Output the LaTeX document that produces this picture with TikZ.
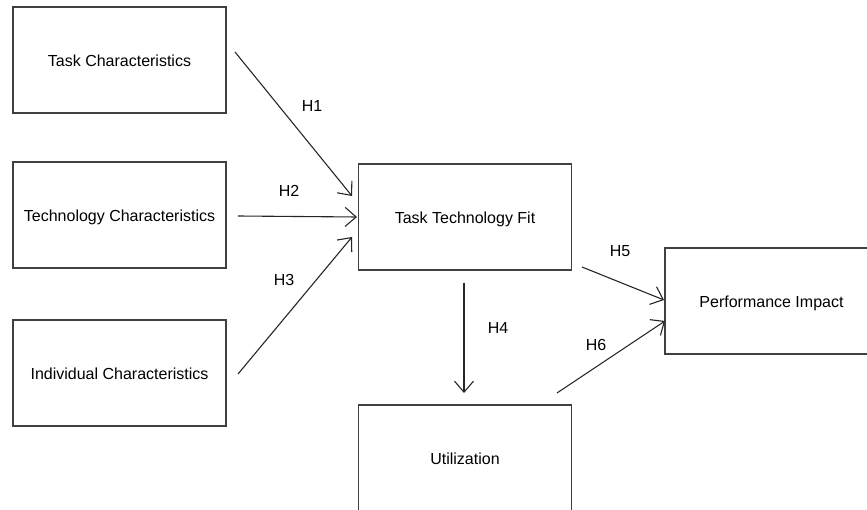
\documentclass[tikz,border=0pt]{standalone}
\usepackage{fontspec}
\setmainfont{Liberation Sans}
\usetikzlibrary{arrows.meta}
\begin{document}
\begin{tikzpicture}[x=1pt,y=-1pt,
  txt/.style={font=\fontsize{16}{19}\selectfont},
  box/.style={txt,draw=black!75,line width=1.3pt,inner sep=0pt,
    text height=13.5pt,text depth=0pt,
    minimum width=213pt,minimum height=106pt},
  link/.style={draw=black!85,line width=1.1pt,-{Straight Barb[length=11pt,width=19pt,line width=1.1pt]}},
  hyp/.style={txt,inner sep=0pt}]
\useasboundingbox (0,0) rectangle (867,510);
\begin{scope}
\clip (0,0) rectangle (867,510);
% constructs of the model
\node[box] (tc)   at (119.5,60)  {Task Characteristics};
\node[box] (tech) at (119.5,215) {Technology Characteristics};
\node[box] (ic)   at (119.5,373) {Individual Characteristics};
\node[box] (ttf)  at (465,217)   {Task Technology Fit};
\node[box] (ut)   at (465,458)   {Utilization};
\node[box] (pi)   at (771.5,301) {Performance Impact};
\end{scope}
% hypothesis paths
\coordinate (a1) at (235,52);  \coordinate (b1) at (352,196);
\coordinate (a2) at (238,216); \coordinate (b2) at (357,217);
\coordinate (a3) at (238,374); \coordinate (b3) at (352,237);
\coordinate (a4) at (464,283); \coordinate (b4) at (464,393);
\coordinate (a5) at (582,267); \coordinate (b5) at (664,300);
\coordinate (a6) at (557,393); \coordinate (b6) at (665,321);
\draw[link] (a1) -- (b1);
\draw[link] (a2) -- (b2);
\draw[link] (a3) -- (b3);
\draw[link] (a4) -- (b4);
\draw[link] (a5) -- (b5);
\draw[link] (a6) -- (b6);
\node[hyp] (h1) at (312,106) {H1};
\node[hyp] (h2) at (289,191) {H2};
\node[hyp] (h3) at (284,280) {H3};
\node[hyp] (h4) at (498,328) {H4};
\node[hyp] (h5) at (620,251) {H5};
\node[hyp] (h6) at (596,345) {H6};
\end{tikzpicture}
\end{document}
